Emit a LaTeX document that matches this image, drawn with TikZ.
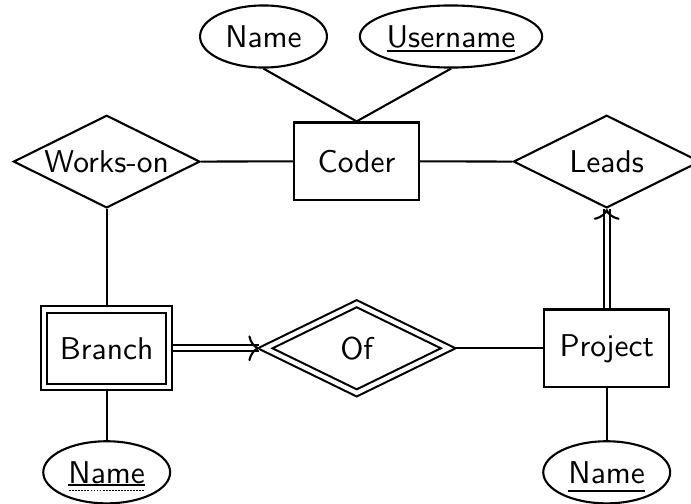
\documentclass[tikz,border=0pt]{standalone}
\usetikzlibrary{shapes.geometric, arrows.meta}

\newlength{\ulwd}
% solid key underline: rule #2 below the baseline, as wide as the text
\newcommand{\ulsolid}[2]{\settowidth{\ulwd}{#1}\rlap{\raisebox{-#2}[0pt][0pt]{\rule{\ulwd}{0.55pt}}}#1}
% dotted underline for a partial key
\newcommand{\uldots}[2]{\settowidth{\ulwd}{#1}\rlap{\raisebox{-#2}[0pt][0pt]{\hbox to \ulwd{\xleaders\hbox to 1pt{\hss\rule{0.6pt}{0.5pt}\hss}\hfill}}}#1}

\begin{document}
\begin{tikzpicture}[x=0.33333pt, y=-0.33333pt,
  every node/.style={font=\fontsize{10.5}{12.6}\selectfont\sffamily, line width=0.7pt},
  entity/.style={draw, rectangle, minimum width=41.67pt, minimum height=25.9pt, inner sep=0pt},
  relation/.style={draw, diamond, aspect=2, minimum width=62.2pt, minimum height=30.9pt, inner sep=0pt},
  attribute/.style={draw, ellipse, minimum width=42.3pt, minimum height=20.7pt, inner sep=0pt},
  weak/.style={double, double distance=1.4pt, outer sep=1.4pt},
  link/.style={line width=0.7pt},
  ident/.style={line width=0.7pt, double, double distance=1.3pt},
  identhead/.style={line width=0.7pt, -{Computer Modern Rightarrow[length=3.6pt, width=8.6pt]}},
]
\useasboundingbox (0,0) rectangle (691,504);
\clip (0,0) rectangle (691,504);

% entities
\node[entity] (coder) at (356.6,161.3) {Coder};
\node[entity, weak] (branch) at (106.7,348.3) {Branch};
\node[entity] (project) at (606.7,348.3) {Project};

% relationships
\node[relation] (workson) at (106.7,161.6) {Works-on};
\node[relation] (leads) at (606.7,161.6) {Leads};
\node[relation, weak] (of) at (356.7,348.3) {Of};

% attributes
\node[attribute] (cname) at (263.5,36.5) {Name};
\node[attribute, minimum width=60.7pt] (username) at (451,36.5) {\ulsolid{Username}{1.6pt}};
\node[attribute] (bname) at (106.7,472.3) {\uldots{\ulsolid{Name}{1.0pt}}{2.8pt}};
\node[attribute] (pname) at (606.7,472.3) {\ulsolid{Name}{2.9pt}};

% connectors
\draw[link] (cname.south) -- (coder.north);
\draw[link] (username.south) -- (coder.north);
\draw[link] (workson.east) -- (coder.west);
\draw[link] (coder.east) -- (leads.west);
\draw[link] (workson.south) -- (branch.north);
\draw[link] (of.east) -- (project.west);
\draw[link] (branch.south) -- (bname.north);
\draw[link] (project.south) -- (pname.north);

% identifying links: double shaft, curved head at the relationship
\draw[ident] (branch.east) -- (of.west);
\draw[identhead] ([xshift=-0.2pt]of.west) -- (of.west);
\draw[ident] (project.north) -- (leads.south);
\draw[identhead] ([yshift=-0.2pt]leads.south) -- (leads.south);
\end{tikzpicture}
\end{document}
